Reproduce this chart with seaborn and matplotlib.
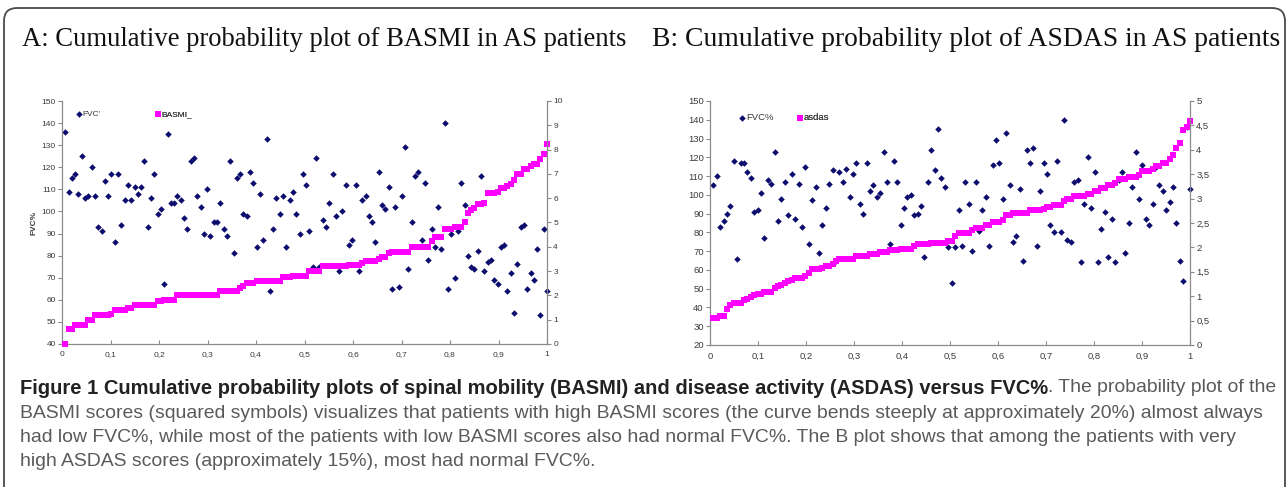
import numpy as np
import pandas as pd
import matplotlib
matplotlib.use('Agg')
import matplotlib.pyplot as plt
from matplotlib.patches import FancyBboxPatch
from matplotlib.ticker import FuncFormatter, MultipleLocator
import seaborn as sns

# ---- datos panel A (FVC% y BASMI, ordenados por BASMI) ----
fvc_a = [136, 109, 115, 117, 108, 125, 106, 107, 120, 107,
         93, 91, 114, 107, 117, 86, 117, 94, 105, 112,
         105, 111, 108, 111, 123, 93, 106, 117, 99, 101,
         67, 135, 104, 104, 107, 105, 97, 92, 123, 124,
         107, 102, 90, 110, 89, 95, 95, 104, 92, 89,
         123, 81, 115, 117, 99, 98, 118, 113, 84, 108,
         87, 133, 64, 92, 106, 99, 107, 84, 105, 109,
         99, 90, 117, 112, 91, 75, 124, 75, 96, 93,
         104, 117, 98, 73, 100, 112, 85, 87, 112, 73,
         105, 107, 98, 95, 86, 118, 103, 101, 111, 65,
         102, 66, 107, 129, 74, 95, 116, 118, 87, 113,
         78, 92, 84, 102, 83, 140, 65, 90, 70, 91,
         113, 103, 80, 75, 74, 82, 116, 73, 77, 78,
         69, 67, 84, 85, 64, 72, 54, 76, 93, 94,
         65, 72, 69, 83, 53, 92, 64]
basmi_a = [0.0, 0.6, 0.6, 0.8, 0.8, 0.8, 0.8, 1.0, 1.0, 1.2,
           1.2, 1.2, 1.2, 1.2, 1.25, 1.4, 1.4, 1.4, 1.4, 1.5,
           1.5, 1.6, 1.6, 1.6, 1.6, 1.6, 1.6, 1.6, 1.75, 1.75,
           1.8, 1.8, 1.8, 1.8, 2.0, 2.0, 2.0, 2.0, 2.0, 2.0,
           2.0, 2.0, 2.0, 2.0, 2.0, 2.0, 2.0, 2.2, 2.2, 2.2,
           2.2, 2.2, 2.2, 2.3, 2.4, 2.5, 2.5, 2.5, 2.6, 2.6,
           2.6, 2.6, 2.6, 2.6, 2.6, 2.6, 2.75, 2.75, 2.75, 2.8,
           2.8, 2.8, 2.8, 2.8, 3.0, 3.0, 3.0, 3.0, 3.2, 3.2,
           3.2, 3.2, 3.2, 3.2, 3.2, 3.2, 3.27, 3.27, 3.27, 3.27,
           3.33, 3.4, 3.4, 3.4, 3.4, 3.5, 3.6, 3.6, 3.75, 3.8,
           3.8, 3.8, 3.8, 3.8, 3.8, 4.0, 4.0, 4.0, 4.0, 4.0,
           4.0, 4.25, 4.4, 4.4, 4.4, 4.75, 4.75, 4.75, 4.8, 4.8,
           4.8, 5.0, 5.4, 5.5, 5.6, 5.75, 5.75, 5.8, 6.2, 6.2,
           6.2, 6.25, 6.4, 6.4, 6.5, 6.6, 6.75, 7.0, 7.0, 7.2,
           7.2, 7.33, 7.4, 7.4, 7.6, 7.8, 8.25]

# ---- datos panel B (FVC% y ASDAS, ordenados por ASDAS) ----
fvc_b = [105, 110, 83, 86, 90, 94, 118, 66, 117, 117,
         112, 109, 91, 92, 101, 77, 108, 106, 123, 86,
         98, 107, 89, 111, 87, 106, 83, 115, 74, 97,
         104, 69, 84, 93, 106, 113, 65, 112, 107, 114,
         99, 111, 117, 95, 90, 117, 102, 105, 99, 101,
         123, 107, 74, 118, 107, 84, 93, 99, 100, 89,
         90, 94, 67, 107, 124, 113, 135, 109, 104, 72,
         53, 72, 92, 73, 107, 95, 70, 107, 81, 92,
         99, 73, 116, 129, 117, 98, 133, 105, 75, 78,
         103, 65, 124, 117, 125, 73, 102, 117, 111, 84,
         80, 118, 80, 140, 76, 75, 107, 108, 64, 95,
         120, 93, 112, 64, 82, 91, 67, 87, 64, 108,
         112, 69, 85, 104, 123, 98, 116, 87, 84, 95,
         115, 105, 102, 92, 96, 104, 85, 65, 54, 136,
         103]
asdas_b = [0.56, 0.56, 0.6, 0.6, 0.74, 0.81, 0.86, 0.86, 0.86, 0.92,
           0.95, 0.98, 1.02, 1.05, 1.05, 1.08, 1.08, 1.08, 1.17, 1.2,
           1.23, 1.27, 1.31, 1.34, 1.38, 1.38, 1.38, 1.42, 1.47, 1.55,
           1.55, 1.55, 1.58, 1.61, 1.61, 1.67, 1.72, 1.77, 1.77, 1.77,
           1.77, 1.77, 1.82, 1.82, 1.82, 1.82, 1.86, 1.86, 1.86, 1.9,
           1.9, 1.9, 1.94, 1.94, 1.94, 1.97, 1.97, 1.97, 1.97, 2.02,
           2.06, 2.06, 2.06, 2.06, 2.09, 2.09, 2.09, 2.09, 2.09, 2.14,
           2.14, 2.23, 2.3, 2.3, 2.3, 2.3, 2.35, 2.4, 2.4, 2.4,
           2.45, 2.45, 2.52, 2.52, 2.52, 2.57, 2.66, 2.66, 2.7, 2.7,
           2.7, 2.7, 2.7, 2.76, 2.76, 2.76, 2.76, 2.79, 2.83, 2.83,
           2.86, 2.86, 2.86, 2.96, 2.99, 2.99, 3.05, 3.05, 3.05, 3.05,
           3.09, 3.09, 3.16, 3.16, 3.22, 3.22, 3.28, 3.28, 3.32, 3.4,
           3.4, 3.4, 3.44, 3.44, 3.44, 3.48, 3.57, 3.57, 3.57, 3.6,
           3.66, 3.66, 3.73, 3.73, 3.81, 3.89, 4.03, 4.13, 4.4, 4.47,
           4.6]

titulo_a = 'A: Cumulative probability plot of BASMI in AS patients'
titulo_b = 'B: Cumulative probability plot of ASDAS in AS patients'
leyenda_a = ["FVC'", 'BASMI_']
leyenda_b = ['FVC%', 'asdas']

caption_bold = ('Figure 1 Cumulative probability plots of spinal mobility (BASMI) '
                'and disease activity (ASDAS) versus FVC%')
caption_l1 = '. The probability plot of the'
caption_rest = [
    'BASMI scores (squared symbols) visualizes that patients with high BASMI scores '
    '(the curve bends steeply at approximately 20%) almost always',
    'had low FVC%, while most of the patients with low BASMI scores also had normal '
    'FVC%. The B plot shows that among the patients with very',
    'high ASDAS scores (approximately 15%), most had normal FVC%.',
]

W, H = 1287, 487
NAVY = '#0c0c6e'
MAGENTA = '#ff00ff'
EJE = '#8a8a8a'
TXT = '#3a3a3a'

sns.set_theme(style='white')
plt.rcParams['font.family'] = ['Liberation Sans', 'DejaVu Sans']


def coma(v, pos):
    return f'{v:g}'.replace('.', ',')


def panel(fig, caja, fvc, score, ylim, ystep, ymax2, ystep2, etiquetas,
          ylabel, fs, pos_ley):
    l, t, r, b = caja
    ax = fig.add_axes([l / W, 1 - b / H, (r - l) / W, (b - t) / H])
    df = pd.DataFrame({'fvc': fvc, 'score': score})
    # probabilidad acumulada segun el rango del score
    df['prob'] = df['score'].rank(method='first') / len(df)

    sns.scatterplot(data=df, x='prob', y='fvc', ax=ax, marker='D', s=11,
                    color=NAVY, linewidth=0, clip_on=False, legend=False)
    ax2 = ax.twinx()
    sns.scatterplot(data=df, x='prob', y='score', ax=ax2, marker='s', s=24,
                    color=MAGENTA, linewidth=0, clip_on=False, legend=False)

    ax.set_xlim(0, 1)
    ax.set_ylim(*ylim)
    ax2.set_ylim(0, ymax2)
    ax.xaxis.set_major_locator(MultipleLocator(0.1))
    ax.yaxis.set_major_locator(MultipleLocator(ystep))
    ax2.yaxis.set_major_locator(MultipleLocator(ystep2))
    for a in (ax, ax2):
        a.xaxis.set_major_formatter(FuncFormatter(coma))
        a.yaxis.set_major_formatter(FuncFormatter(coma))
        a.set_xlabel('')
        a.set_ylabel('')
        a.spines['top'].set_visible(False)
        for sp in a.spines.values():
            sp.set_color(EJE)
            sp.set_linewidth(0.9)
    ax2.spines['left'].set_visible(False)
    ax2.spines['bottom'].set_visible(False)
    ax.spines['right'].set_visible(False)

    ax.tick_params(axis='y', left=True, direction='out', length=3, width=0.8,
                   color=EJE, labelsize=fs, labelcolor=TXT, pad=1.5)
    ax.tick_params(axis='x', bottom=True, direction='in', length=3, width=0.8,
                   color=EJE, labelsize=fs, labelcolor=TXT, pad=5)
    ax2.tick_params(axis='y', right=True, direction='out', length=3, width=0.8,
                    color=EJE, labelsize=fs, labelcolor=TXT, pad=1.5)

    if ylabel:
        ax.set_ylabel(ylabel, fontsize=fs, fontweight='bold', color=TXT,
                      labelpad=3)

    h1 = ax.collections[0]
    h2 = ax2.collections[0]
    for h, lab, (px, py) in zip((h1, h2), etiquetas, pos_ley):
        leg = ax2.legend([h], [lab], loc='center left',
                         bbox_to_anchor=((px - l) / (r - l), 1 - (py - t) / (b - t)),
                         frameon=False, fontsize=fs, handlelength=0.6,
                         handletextpad=0.15, borderpad=0, borderaxespad=0,
                         labelcolor=TXT)
        ax2.add_artist(leg)
    return ax, ax2


def texto_ajustado(fig, x, y, s, ancho, **kw):
    t = fig.text(x / W, 1 - y / H, s, va='center', ha='left', fontsize=10, **kw)
    w = t.get_window_extent(fig.canvas.get_renderer()).width
    t.set_fontsize(10 * ancho / w)
    return t


fig = plt.figure(figsize=(W / 100, H / 100), dpi=100)
fig.patch.set_facecolor('white')

# marco redondeado
marco = FancyBboxPatch((0.04, -0.3), 12.81, 4.83 + 0.3 - 0.04,
                       boxstyle='round,pad=0,rounding_size=0.13',
                       transform=fig.dpi_scale_trans, facecolor='none',
                       edgecolor='#4a4a4a', linewidth=1.3)
fig.add_artist(marco)

# titulos
serif = ['Liberation Serif', 'DejaVu Serif']
texto_ajustado(fig, 22, 39, titulo_a, 606, family=serif, color='#111111')
texto_ajustado(fig, 652, 39, titulo_b, 628, family=serif, color='#111111')

panel(fig, (62, 101, 547, 344), fvc_a, basmi_a, (40, 150), 10, 10, 1,
      leyenda_a, 'FVC%', 6, [(76, 114), (155, 114)])
panel(fig, (710, 101, 1190, 345), fvc_b, asdas_b, (20, 150), 10, 5, 0.5,
      leyenda_b, None, 6.8, [(739, 118), (797, 118)])

# pie de figura
cap_fam = ['Liberation Sans', 'DejaVu Sans']
t2 = texto_ajustado(fig, 20, 413, caption_rest[0], 1240, family=cap_fam,
                    color='#5a5a5a')
fs_cap = t2.get_fontsize()
tb = texto_ajustado(fig, 20, 388, caption_bold, 1027, fontweight='bold',
                    family=cap_fam, color='#222222')
wb = tb.get_window_extent(fig.canvas.get_renderer()).width
fig.text((20 + wb) / W, 1 - 388 / H, caption_l1, va='center', ha='left',
         fontsize=fs_cap, family=cap_fam, color='#5a5a5a')
for yy, linea in zip((438, 462), caption_rest[1:]):
    fig.text(20 / W, 1 - yy / H, linea, va='center', ha='left',
             fontsize=fs_cap, family=cap_fam, color='#5a5a5a')

fig.savefig('out.png', dpi=100)
